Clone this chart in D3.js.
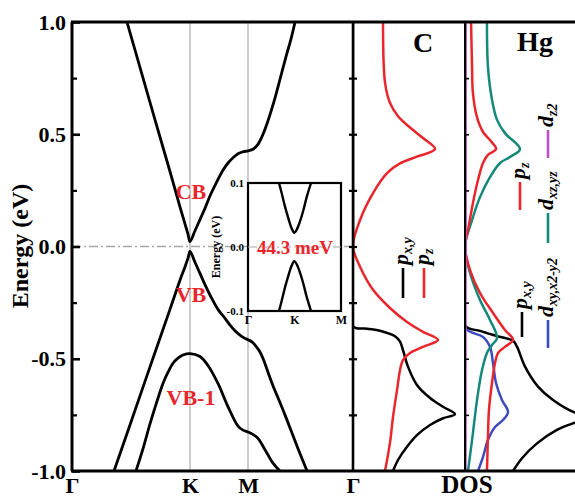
<!DOCTYPE html>
<html><head><meta charset="utf-8">
<script src="https://cdn.jsdelivr.net/npm/d3@7"></script>
<style>
body{margin:0;background:#fff}
svg{display:block}
text{font-family:"Liberation Serif","Times New Roman",serif;font-weight:bold}
</style>
</head><body>
<svg id="c" width="575" height="498"></svg>
<script>
// ---------- data ----------
const kTicks = [0, 1, 1.5, 2.366];
const kLabels = ["Γ", "K", "M", "Γ"];
const eTicks = [-1, -0.5, 0, 0.5, 1];
const eTickLabels = ["-1.0", "-0.5", "0.0", "0.5", "1.0"];
const eMinor = [-0.75, -0.25, 0.25, 0.75];
const quarterTicks = [-0.75, -0.5, -0.25, 0, 0.25, 0.5, 0.75];

// band structure [k, E(eV)]
const bandCB = [[0.466,1.0],[0.576,0.798],[0.703,0.565],[0.831,0.333],[0.915,0.177],[0.958,0.10],[0.983,0.055],[1.0,0.022],
  [1.043,0.07],[1.086,0.12],[1.129,0.17],[1.172,0.225],[1.233,0.29],[1.284,0.34],[1.328,0.372],[1.371,0.395],[1.414,0.413],[1.457,0.422],[1.5,0.426],
  [1.541,0.433],[1.582,0.455],[1.624,0.50],[1.665,0.56],[1.714,0.645],[1.764,0.745],[1.813,0.845],[1.855,0.925],[1.888,1.0]];
const bandVB = [[0.356,-1.0],[0.492,-0.794],[0.661,-0.536],[0.831,-0.279],[0.915,-0.15],[0.958,-0.09],[0.983,-0.052],[1.0,-0.022],
  [1.043,-0.07],[1.086,-0.12],[1.129,-0.17],[1.181,-0.225],[1.241,-0.28],[1.302,-0.32],[1.345,-0.35],[1.388,-0.375],[1.431,-0.395],[1.466,-0.407],[1.5,-0.415],
  [1.533,-0.425],[1.566,-0.445],[1.599,-0.47],[1.632,-0.51],[1.665,-0.56],[1.706,-0.62],[1.756,-0.685],[1.805,-0.75],[1.855,-0.82],[1.912,-0.90],[1.987,-1.0]];
const bandVB1 = [[0.542,-1.0],[0.602,-0.90],[0.661,-0.79],[0.720,-0.69],[0.771,-0.61],[0.814,-0.56],[0.856,-0.52],[0.898,-0.497],[0.941,-0.483],[1.0,-0.477],
  [1.086,-0.49],[1.155,-0.53],[1.241,-0.61],[1.328,-0.714],[1.414,-0.80],[1.457,-0.818],[1.5,-0.826],
  [1.574,-0.85],[1.64,-0.905],[1.706,-0.965],[1.764,-1.0]];

// inset (zoom near K)
const insetTicks = [0, 1, 2];
const insetLabels = ["Γ", "K", "M"];
const insetE = [-0.1, 0, 0.1];
const insetELabels = ["-0.1", "0.0", "0.1"];
const insetCB = [[0.667,0.1],[0.725,0.084],[0.796,0.063],[0.867,0.045],[0.940,0.029],[0.996,0.022],[1.047,0.027],[1.118,0.040],[1.189,0.057],[1.262,0.078],[1.355,0.1]];
const insetVB = [[0.667,-0.1],[0.725,-0.084],[0.796,-0.063],[0.867,-0.045],[0.940,-0.029],[0.996,-0.022],[1.047,-0.027],[1.118,-0.040],[1.189,-0.057],[1.262,-0.078],[1.355,-0.1]];
const gapLabel = "44.3 meV";

// PDOS [E, dos]
const dosC_pz = [[1.0,2.68],[0.73,2.86],[0.64,3.30],[0.58,4.02],[0.53,5.09],[0.483,6.25],[0.434,7.32],[0.40,5.71],[0.37,4.20],[0.327,3.04],[0.238,1.79],[0.118,0.63],[0,0],
  [-0.09,0.63],[-0.193,1.79],[-0.274,3.30],[-0.336,4.82],[-0.38,6.25],[-0.416,7.59],[-0.447,6.25],[-0.474,5.09],[-0.506,4.46],[-0.55,4.20],[-0.64,3.93],[-0.76,3.57],[-0.875,3.30],[-1.0,2.86]];
const dosC_pxy = [[1.0,0],[0,0],[-0.355,0],[-0.366,1.25],[-0.375,2.41],[-0.40,3.75],[-0.424,4.20],[-0.461,4.46],[-0.535,4.91],[-0.617,5.71],[-0.675,6.88],[-0.714,8.04],[-0.747,9.11],
  [-0.765,8.04],[-0.795,6.88],[-0.84,5.71],[-0.892,4.82],[-0.951,4.02],[-1.0,3.57]];
const dosHg_pz = [[1.0,0.54],[0.80,0.63],[0.683,0.71],[0.576,1.07],[0.51,1.61],[0.474,2.23],[0.434,2.77],[0.408,2.05],[0.372,1.61],[0.296,1.16],[0.194,0.71],[0.073,0.27],[0,0],
  [-0.105,0.45],[-0.207,1.34],[-0.296,2.50],[-0.372,3.57],[-0.416,4.29],[-0.447,3.57],[-0.474,2.95],[-0.519,2.68],[-0.608,2.41],[-0.728,2.14],[-0.848,2.05],[-1.0,1.96]];
const dosHg_dxzyz = [[1.0,1.96],[0.80,2.05],[0.654,2.41],[0.564,2.86],[0.505,3.57],[0.434,4.91],[0.399,4.02],[0.372,3.13],[0.309,2.23],[0.22,1.34],[0.118,0.63],[0,0],
  [-0.118,0.45],[-0.238,1.34],[-0.327,2.23],[-0.408,2.86],[-0.439,2.41],[-0.474,1.96],[-0.55,1.52],[-0.684,1.07],[-0.83,0.71],[-1.0,0.27]];
const dosHg_dxyx2y2 = [[1.0,0],[0,0],[-0.362,0],[-0.372,0.18],[-0.385,0.71],[-0.403,1.61],[-0.447,2.23],[-0.519,2.50],[-0.608,2.77],[-0.684,3.30],[-0.737,3.84],[-0.773,3.39],[-0.804,2.68],[-0.862,2.05],[-0.937,1.61],[-1.0,1.16]];
const dosHg_pxy = [[1.0,0],[0,0],[-0.352,0],[-0.376,1.34],[-0.399,2.86],[-0.42,4.29],[-0.446,4.64],[-0.535,5.36],[-0.624,6.52],[-0.684,7.86],[-0.74,9.82],[-0.757,11.5],[-0.785,9.82],[-0.817,8.21],[-0.877,6.43],[-0.943,5.09],[-1.0,4.29]];
const dosHg_dz2 = [[1.0,0.05],[0.5,0.05],[0,0.05],[-0.5,0.05],[-1.0,0.05]];

const RED = "#e8262b", TEAL = "#14897a", BLUE = "#3c4cc0", MAG = "#c04fc8";

// ---------- drawing ----------
const svg = d3.select("#c");
const L = 72, R = 575, T = 22, B = 471;
const xK0 = 353, xDiv = 465;
const y = d3.scaleLinear().domain([-1, 1]).range([B, T]);
const x = d3.scaleLinear().domain(kTicks).range([L, 190, 248, xK0]);
const xC = d3.scaleLinear().domain([0, 10]).range([xK0, xDiv]);
const xHg = d3.scaleLinear().domain([0, 10]).range([xDiv, xDiv + 112]);

const defs = svg.append("defs");
defs.append("clipPath").attr("id","cpBand").append("rect").attr("x",L).attr("y",T).attr("width",xK0-L).attr("height",B-T);
defs.append("clipPath").attr("id","cpC").append("rect").attr("x",xK0).attr("y",T).attr("width",xDiv-xK0).attr("height",B-T);
defs.append("clipPath").attr("id","cpHg").append("rect").attr("x",xDiv).attr("y",T).attr("width",R-xDiv).attr("height",B-T);

// gray high-symmetry lines
svg.append("g").selectAll("line").data(kTicks.slice(1,3)).join("line")
  .attr("x1", d => x(d)).attr("x2", d => x(d)).attr("y1", T).attr("y2", B)
  .attr("stroke", "#bdbdbd").attr("stroke-width", 1.5);

// bands
const bandLine = d3.line().x(d => x(d[0])).y(d => y(d[1])).curve(d3.curveCatmullRom.alpha(0.5));
const gb = svg.append("g").attr("clip-path","url(#cpBand)");
[bandCB, bandVB, bandVB1].forEach(b => gb.append("path").attr("d", bandLine(b))
  .attr("fill","none").attr("stroke","#000").attr("stroke-width",2.8));

// zero dash-dot line
svg.append("line").attr("x1", L).attr("x2", xK0).attr("y1", y(0)).attr("y2", y(0))
  .attr("stroke", "#a8a8a8").attr("stroke-width", 1.3).attr("stroke-dasharray", "9,3,2,3");

// band labels
const bl = [["CB", 0.245], ["VB", -0.215], ["VB-1", -0.67]];
svg.append("g").selectAll("text").data(bl).join("text")
  .attr("x", x(1) + 1).attr("y", d => y(d[1])).attr("dy", "0.35em")
  .attr("text-anchor", "middle").attr("fill", RED).attr("font-size", 22).text(d => d[0]);

// inset
const ix = d3.scaleLinear().domain([0, 2]).range([248, 341]);
const iy = d3.scaleLinear().domain([-0.1, 0.1]).range([311, 183]);
const gi = svg.append("g");
gi.append("rect").attr("x", 248).attr("y", 183).attr("width", 93).attr("height", 128)
  .attr("fill", "#fff").attr("stroke", "#000").attr("stroke-width", 2.2);
const iLine = d3.line().x(d => ix(d[0])).y(d => iy(d[1])).curve(d3.curveCatmullRom.alpha(0.5));
[insetCB, insetVB].forEach(b => gi.append("path").attr("d", iLine(b)).attr("fill","none").attr("stroke","#000").attr("stroke-width",2.4));
gi.append("line").attr("x1", 248).attr("x2", 341).attr("y1", iy(0)).attr("y2", iy(0))
  .attr("stroke", "#a8a8a8").attr("stroke-width", 1.2).attr("stroke-dasharray", "9,3,2,3");
gi.append("g").attr("transform", "translate(248,0)")
  .call(d3.axisLeft(iy).tickValues(insetE).tickFormat((d,i) => insetELabels[i]).tickSize(0).tickPadding(4))
  .call(g => g.select(".domain").remove())
  .call(g => g.selectAll("text").attr("font-size", 11).attr("font-family", null).attr("fill","#000"));
gi.append("g").attr("transform", "translate(0,311)")
  .call(d3.axisBottom(ix).tickValues(insetTicks).tickFormat((d,i) => insetLabels[i]).tickSize(0).tickPadding(4))
  .call(g => g.select(".domain").remove())
  .call(g => g.selectAll("text").attr("font-size", 12).attr("font-family", null).attr("fill","#000"));
gi.append("text").attr("transform", "translate(220,247) rotate(-90)").attr("text-anchor","middle")
  .attr("font-size", 12).text("Energy (eV)");
gi.append("text").attr("x", 295).attr("y", iy(0)).attr("dy","0.35em").attr("text-anchor","middle")
  .attr("fill", RED).attr("font-size", 19).text(gapLabel);

// DOS curves
const cLine = d3.line().x(d => xC(d[1])).y(d => y(d[0])).curve(d3.curveCatmullRom.alpha(0.5));
const hLine = d3.line().x(d => xHg(d[1])).y(d => y(d[0])).curve(d3.curveCatmullRom.alpha(0.5));
const gc = svg.append("g").attr("clip-path","url(#cpC)");
gc.append("path").attr("d", cLine(dosC_pxy)).attr("fill","none").attr("stroke","#000").attr("stroke-width",2.5);
gc.append("path").attr("d", cLine(dosC_pz)).attr("fill","none").attr("stroke",RED).attr("stroke-width",2.5);
const gh = svg.append("g").attr("clip-path","url(#cpHg)");
gh.append("path").attr("d", hLine(dosHg_pxy)).attr("fill","none").attr("stroke","#000").attr("stroke-width",2.5);
gh.append("path").attr("d", hLine(dosHg_dxyx2y2)).attr("fill","none").attr("stroke",BLUE).attr("stroke-width",2.5);
gh.append("path").attr("d", hLine(dosHg_dxzyz)).attr("fill","none").attr("stroke",TEAL).attr("stroke-width",2.5);
gh.append("path").attr("d", hLine(dosHg_pz)).attr("fill","none").attr("stroke",RED).attr("stroke-width",2.5);

// frame
const fr = svg.append("g").attr("stroke","#000").attr("fill","none");
fr.append("line").attr("x1",L-1).attr("x2",R).attr("y1",T).attr("y2",T).attr("stroke-width",3);
fr.append("line").attr("x1",L-1).attr("x2",R).attr("y1",B).attr("y2",B).attr("stroke-width",3);
fr.append("line").attr("x1",L).attr("x2",L).attr("y1",T).attr("y2",B).attr("stroke-width",3);
fr.append("line").attr("x1",xK0).attr("x2",xK0).attr("y1",T).attr("y2",B).attr("stroke-width",2.6);
fr.append("line").attr("x1",xDiv).attr("x2",xDiv).attr("y1",T).attr("y2",B).attr("stroke-width",2);
// dz2 on Hg axis
gh.append("path").attr("d", hLine(dosHg_dz2)).attr("fill","none").attr("stroke",MAG).attr("stroke-width",2.4);

// ticks
const ax = svg.append("g");
ax.append("g").attr("transform",`translate(${L},0)`).call(d3.axisRight(y).tickValues(eTicks).tickSize(8).tickFormat(""))
  .call(g => g.select(".domain").remove()).call(g => g.selectAll("line").attr("stroke-width",2.6));
ax.append("g").attr("transform",`translate(${L},0)`).call(d3.axisRight(y).tickValues(eMinor).tickSize(5).tickFormat(""))
  .call(g => g.select(".domain").remove()).call(g => g.selectAll("line").attr("stroke-width",2.2));
ax.append("g").attr("transform",`translate(${xK0-4},0)`).call(d3.axisRight(y).tickValues(quarterTicks).tickSize(8).tickFormat(""))
  .call(g => g.select(".domain").remove()).call(g => g.selectAll("line").attr("stroke-width",2.2));
ax.append("g").attr("transform",`translate(${xDiv},0)`).call(d3.axisRight(y).tickValues(quarterTicks.filter(d=>d!==0)).tickSize(4).tickFormat(""))
  .call(g => g.select(".domain").remove()).call(g => g.selectAll("line").attr("stroke-width",1.6));

// y tick labels
ax.append("g").attr("transform",`translate(${L},0)`)
  .call(d3.axisLeft(y).tickValues(eTicks).tickFormat((d,i) => eTickLabels[i]).tickSize(0).tickPadding(6))
  .call(g => g.select(".domain").remove())
  .call(g => g.selectAll("text").attr("font-size", 22).attr("font-family", null).attr("fill","#000"));
// x tick labels
ax.append("g").attr("transform",`translate(0,${B})`)
  .call(d3.axisBottom(x).tickValues(kTicks).tickFormat((d,i) => kLabels[i]).tickSize(0).tickPadding(6))
  .call(g => g.select(".domain").remove())
  .call(g => g.selectAll("text").attr("font-size", 22).attr("font-family", null).attr("fill","#000"));

svg.append("text").attr("transform","translate(28,246) rotate(-90)").attr("text-anchor","middle")
  .attr("font-size", 24).text("Energy (eV)");
svg.append("text").attr("x", 467).attr("y", 493).attr("text-anchor","middle").attr("font-size", 25).text("DOS");
svg.append("text").attr("x", 423).attr("y", 52).attr("text-anchor","middle").attr("font-size", 28).text("C");
svg.append("text").attr("x", 535).attr("y", 51).attr("text-anchor","middle").attr("font-size", 28).text("Hg");

// legends: [lineX, lineY1, lineY2, color, main, sub]
const legends = [
  [403, 268, 298, "#000", "p", "x,y"],
  [424, 268, 298, RED, "p", "z"],
  [520, 182, 210, RED, "p", "z"],
  [548, 130, 158, MAG, "d", "z2"],
  [548, 213, 243, TEAL, "d", "xz,yz"],
  [522, 312, 337, "#000", "p", "x,y"],
  [548, 320, 348, BLUE, "d", "xy,x2-y2"]
];
const lg = svg.append("g");
legends.forEach(d => {
  lg.append("line").attr("x1", d[0]).attr("x2", d[0]).attr("y1", d[1]).attr("y2", d[2])
    .attr("stroke", d[3]).attr("stroke-width", 2.6);
  const t = lg.append("text").attr("transform", `translate(${d[0]+5},${d[1]-3}) rotate(-90)`)
    .attr("font-style","italic");
  t.append("tspan").attr("font-size", 22).text(d[4]);
  t.append("tspan").attr("font-size", 14).attr("dy", 4).text(d[5]);
});
</script>
</body></html>
